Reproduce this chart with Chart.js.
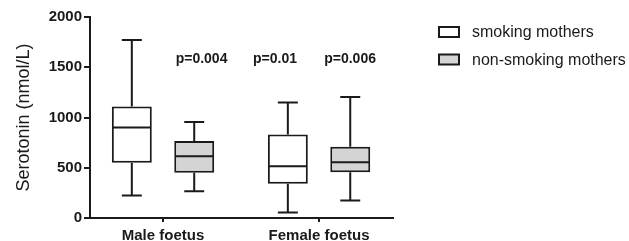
<!DOCTYPE html>
<html>
<head>
<meta charset="utf-8">
<script src="https://cdn.jsdelivr.net/npm/chart.js@4"></script>
<style>
  html, body { margin: 0; padding: 0; background: #fff; }
  #box { width: 629px; height: 241px; }
</style>
</head>
<body>
<div id="box"><canvas id="serotoninChart"></canvas></div>
<script>
// values (nmol/L)
const categories = ['Male foetus', 'Female foetus'];
const seriesNames = ['smoking mothers', 'non-smoking mothers'];
const smokingMin = [225, 55];
const smokingQ1 = [550, 340];
const smokingMedian = [900, 515];
const smokingQ3 = [1110, 830];
const smokingMax = [1770, 1150];
const nonSmokingMin = [265, 175];
const nonSmokingQ1 = [450, 455];
const nonSmokingMedian = [615, 555];
const nonSmokingQ3 = [765, 710];
const nonSmokingMax = [955, 1205];
const yTicks = [0, 500, 1000, 1500, 2000];

// p-value annotations (x in category units, y in nmol/L)
const pLabels = ['p=0.004', 'p=0.01', 'p=0.006'];
const pX = [0.247, 0.718, 1.199];
const pY = [1580, 1580, 1580];

const FONT = "Arial, 'Liberation Sans', Helvetica, sans-serif";
const INK = '#1a1a1a';

const stats = [
  { min: smokingMin, median: smokingMedian, max: smokingMax },
  { min: nonSmokingMin, median: nonSmokingMedian, max: nonSmokingMax }
];

// whiskers, caps and medians on top of the floating bars
const boxExtras = {
  id: 'boxExtras',
  afterDatasetsDraw(chart) {
    const ctx = chart.ctx;
    const y = chart.scales.y;
    ctx.save();
    ctx.strokeStyle = INK;
    ctx.lineWidth = 2;
    stats.forEach((s, di) => {
      chart.getDatasetMeta(di).data.forEach((bar, i) => {
        const { x, width } = bar.getProps(['x', 'width'], true);
        const half = width / 2;
        const cap = width / 4;
        const top = chart.data.datasets[di].data[i][1];
        const bottom = chart.data.datasets[di].data[i][0];
        ctx.beginPath();
        // upper whisker
        ctx.moveTo(x, y.getPixelForValue(top));
        ctx.lineTo(x, y.getPixelForValue(s.max[i]));
        ctx.moveTo(x - cap, y.getPixelForValue(s.max[i]));
        ctx.lineTo(x + cap, y.getPixelForValue(s.max[i]));
        // lower whisker
        ctx.moveTo(x, y.getPixelForValue(bottom));
        ctx.lineTo(x, y.getPixelForValue(s.min[i]));
        ctx.moveTo(x - cap, y.getPixelForValue(s.min[i]));
        ctx.lineTo(x + cap, y.getPixelForValue(s.min[i]));
        // median
        ctx.moveTo(x - half + 1, y.getPixelForValue(s.median[i]));
        ctx.lineTo(x + half - 1, y.getPixelForValue(s.median[i]));
        ctx.stroke();
      });
    });

    // p-values
    ctx.fillStyle = INK;
    ctx.font = 'bold 14px ' + FONT;
    ctx.textAlign = 'center';
    ctx.textBaseline = 'middle';
    pLabels.forEach((t, i) => {
      ctx.fillText(t, chart.scales.x.getPixelForValue(pX[i]), y.getPixelForValue(pY[i]));
    });

    // legend to the right
    ctx.font = '16px ' + FONT;
    ctx.textAlign = 'left';
    chart.data.datasets.forEach((ds, i) => {
      const cy = 32 + i * 27.5;
      ctx.fillStyle = ds.backgroundColor;
      ctx.fillRect(439, cy - 5, 20, 10);
      ctx.strokeRect(439, cy - 5, 20, 10);
      ctx.fillStyle = INK;
      ctx.fillText(ds.label, 472, cy + 1);
    });
    ctx.restore();
  }
};

window.onload = function () {
  const ctx = document.getElementById('serotoninChart').getContext('2d');

  new Chart(ctx, {
    type: 'bar',
    data: {
      labels: categories,
      datasets: [
        {
          label: seriesNames[0],
          data: smokingQ1.map((q, i) => [q, smokingQ3[i]]),
          backgroundColor: '#ffffff',
          borderColor: INK,
          borderWidth: 2,
          borderSkipped: false
        },
        {
          label: seriesNames[1],
          data: nonSmokingQ1.map((q, i) => [q, nonSmokingQ3[i]]),
          backgroundColor: '#d4d4d4',
          borderColor: INK,
          borderWidth: 2,
          borderSkipped: false
        }
      ]
    },
    options: {
      responsive: true,
      maintainAspectRatio: false,
      animation: false,
      categoryPercentage: 0.8,
      barPercentage: 0.64,
      layout: { padding: { left: 0, top: 17, right: 236, bottom: 0 } },
      plugins: {
        legend: { display: false },
        tooltip: { enabled: false }
      },
      scales: {
        x: {
          afterFit(scale) { scale.height = 23; },
          // the groups sit a little further out than the default half-slot offset
          afterBuildTicks(scale) { scale._startValue = -0.468; scale._valueRange = 1.942; },
          grid: {
            offset: false,
            drawOnChartArea: false,
            tickLength: 4,
            lineWidth: 2,
            color: INK
          },
          border: { color: INK, width: 2 },
          ticks: {
            color: INK,
            padding: 5,
            font: { family: FONT, size: 15, weight: 'bold' }
          }
        },
        y: {
          min: 0,
          max: 2000,
          afterFit(scale) { scale.width = 90; },
          afterBuildTicks(scale) { scale.ticks = yTicks.map(v => ({ value: v })); },
          grid: {
            drawOnChartArea: false,
            tickLength: 6,
            lineWidth: 2,
            color: INK
          },
          border: { color: INK, width: 2 },
          ticks: {
            color: INK,
            padding: 2,
            font: { family: FONT, size: 15, weight: 'bold' },
            callback: v => String(v)
          },
          title: {
            display: true,
            text: 'Serotonin (nmol/L)',
            color: INK,
            padding: { top: 13, bottom: 0 },
            font: { family: FONT, size: 18 }
          }
        }
      }
    },
    plugins: [boxExtras]
  });
};
</script>
</body>
</html>
